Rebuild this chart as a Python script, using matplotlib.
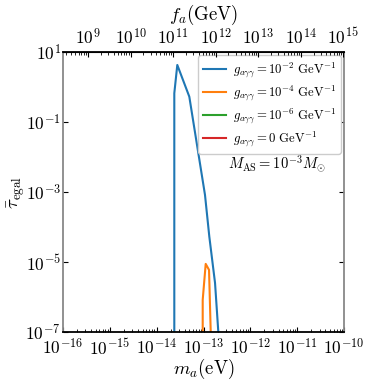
import numpy as np
import matplotlib
matplotlib.use('Agg')
import matplotlib.pyplot as plt
from matplotlib.ticker import LogLocator, NullLocator

plt.rcParams['font.family'] = 'serif'
plt.rcParams['font.serif'] = ['cmr10', 'DejaVu Serif']
plt.rcParams['mathtext.fontset'] = 'cm'
plt.rcParams['axes.formatter.use_mathtext'] = True

# data (log10 values)
m_blue = [-13.623, -13.623, -13.559, -13.303, -12.968, -12.876, -12.754, -12.684, -12.67]
tau_blue = [-12.0, -0.18, 0.629, -0.277, -3.086, -4.277, -5.6, -7.0, -7.5]
m_orange = [-13.017, -13.017, -12.953, -12.882, -12.846, -12.84]
tau_orange = [-12.0, -6.086, -5.057, -5.229, -7.0, -8.0]
m_grid = [-16.0, -10.0]
tau_zero = [-30.0, -30.0]

labels = [r'$g_{a\gamma\gamma}=10^{-2}\ \mathrm{GeV}^{-1}$',
          r'$g_{a\gamma\gamma}=10^{-4}\ \mathrm{GeV}^{-1}$',
          r'$g_{a\gamma\gamma}=10^{-6}\ \mathrm{GeV}^{-1}$',
          r'$g_{a\gamma\gamma}=0\ \mathrm{GeV}^{-1}$']
colors = ['#1f77b4', '#ff7f0e', '#2ca02c', '#d62728']

fig = plt.figure(figsize=(3.7, 3.85), dpi=100)
ax = fig.add_axes([0.170, 0.138, 0.760, 0.727])

xs = [m_blue, m_orange, m_grid, m_grid]
ys = [tau_blue, tau_orange, tau_zero, tau_zero]
for x, y, c, l in zip(xs, ys, colors, labels):
    ax.plot(10**np.array(x), 10**np.array(y), color=c, lw=1.5, label=l)

ax.set_xscale('log')
ax.set_yscale('log')
ax.set_xlim(1e-16, 1e-10)
ax.set_ylim(1e-7, 1e1)
ax.set_yticks([1e1, 1e-1, 1e-3, 1e-5, 1e-7])
ax.yaxis.set_minor_locator(NullLocator())
ax.xaxis.set_major_locator(LogLocator(base=10, numticks=10))
ax.xaxis.set_minor_locator(LogLocator(base=10, subs=np.arange(2, 10), numticks=10))
ax.tick_params(which='both', direction='in', top=False, right=True, labelsize=12.5)
ax.tick_params(axis='y', pad=1.5)
ax.tick_params(which='major', length=3.5)
ax.tick_params(which='minor', length=2)
for s in ['left', 'right']:
    ax.spines[s].set_color('#888888')
    ax.spines[s].set_linewidth(1.3)
ax.spines['bottom'].set_linewidth(1.3)

ax.set_xlabel(r'$m_a(\mathrm{eV})$', fontsize=13.5, labelpad=0)
ax.set_ylabel(r'$\bar{\tau}_{\mathrm{egal}}$', fontsize=13.5, labelpad=-1)

leg = ax.legend(loc='upper right', fontsize=9.2, handlelength=1.8,
                handletextpad=0.5, framealpha=1, borderaxespad=0.25,
                labelspacing=0.3, borderpad=0.4)
leg.get_frame().set_edgecolor('#cccccc')

ax.text(0.76, 0.60, r'$M_{\mathrm{AS}}=10^{-3}M_{\odot}$', transform=ax.transAxes,
        ha='center', va='center', fontsize=10.5)

ax2 = ax.twiny()
ax2.set_xscale('log')
ax2.set_xlim(10**8.41, 10**15.02)
ax2.xaxis.set_major_locator(LogLocator(base=10, numticks=10))
ax2.xaxis.set_minor_locator(LogLocator(base=10, subs=np.arange(2, 10), numticks=10))
ax2.tick_params(which='both', direction='in', labelsize=12.5)
ax2.tick_params(which='major', length=3.5)
ax2.tick_params(which='minor', length=2)
ax2.spines['top'].set_linewidth(1.3)
for s in ['left', 'right', 'bottom']:
    ax2.spines[s].set_visible(False)
ax2.set_xlabel(r'$f_a(\mathrm{GeV})$', fontsize=13.5, labelpad=5)

fig.savefig('out.png', dpi=100)
